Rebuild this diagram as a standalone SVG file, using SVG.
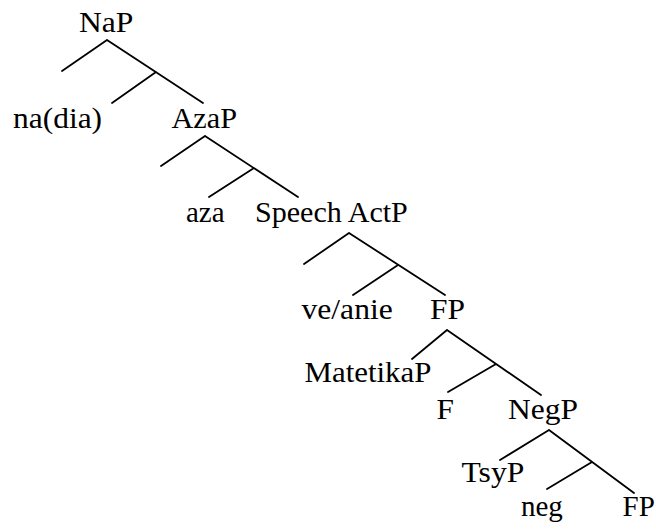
<svg xmlns="http://www.w3.org/2000/svg" width="656" height="529" viewBox="0 0 656 529">
  <style>
    .lbl { font-size: 29px; fill: #000; }
    .br { stroke: #000; stroke-width: 1.8; fill: none; stroke-linecap: round; }
  </style>
  <rect width="656" height="529" fill="#fff"/>

  <!-- branches of the syntax tree -->
  <g id="connectors" class="br">
    <!-- NaP -->
    <path d="M107 40 L62 71 M107 40 L203 103 M156 72 L112 103"/>
    <!-- AzaP -->
    <path d="M205 136 L161 166 M205 136 L298 197 M254 168 L209 197"/>
    <!-- Speech ActP -->
    <path d="M349 233 L304 264 M349 233 L445 295 M398 265 L353 295"/>
    <!-- FP -->
    <path d="M447 330 L412 359 M447 330 L541 395 M496 364 L448 392"/>
    <!-- NegP -->
    <path d="M549 430 L500 460 M549 430 L634 493 M592 462 L547 489"/>
  </g>

  <!-- node labels (slightly widened serif type) -->
  <g id="n-nap"><text class="lbl" font-family="Liberation Serif, serif" transform="translate(79 32) scale(1.09 1)">NaP</text></g>
  <g id="n-nadia"><text class="lbl" font-family="Liberation Serif, serif" transform="translate(13 127.5) scale(1.085 1)">na(dia)</text></g>
  <g id="n-azap"><text class="lbl" font-family="Liberation Serif, serif" transform="translate(171.5 127.5) scale(1.045 1)">AzaP</text></g>
  <g id="n-aza"><text class="lbl" font-family="Liberation Serif, serif" transform="translate(186 221.5)">aza</text></g>
  <g id="n-speechactp"><text class="lbl" font-family="Liberation Serif, serif" transform="translate(255 221.5) scale(1.037 1)">Speech ActP</text></g>
  <g id="n-veanie"><text class="lbl" font-family="Liberation Serif, serif" transform="translate(301.5 318.5) scale(1.09 1)">ve/anie</text></g>
  <g id="n-fp1"><text class="lbl" font-family="Liberation Serif, serif" transform="translate(430 318.5) scale(1.085 1)">FP</text></g>
  <g id="n-matetikap"><text class="lbl" font-family="Liberation Serif, serif" transform="translate(304.5 382) scale(1.065 1)">MatetikaP</text></g>
  <g id="n-f"><text class="lbl" font-family="Liberation Serif, serif" transform="translate(436.5 419) scale(1.08 1)">F</text></g>
  <g id="n-negp"><text class="lbl" font-family="Liberation Serif, serif" transform="translate(508 419) scale(1.085 1)">NegP</text></g>
  <g id="n-tsyp"><text class="lbl" font-family="Liberation Serif, serif" transform="translate(461.5 482) scale(1.09 1)">TsyP</text></g>
  <g id="n-neg"><text class="lbl" font-family="Liberation Serif, serif" transform="translate(521 516)">neg</text></g>
  <g id="n-fp2"><text class="lbl" font-family="Liberation Serif, serif" transform="translate(622.5 516)">FP</text></g>
</svg>
